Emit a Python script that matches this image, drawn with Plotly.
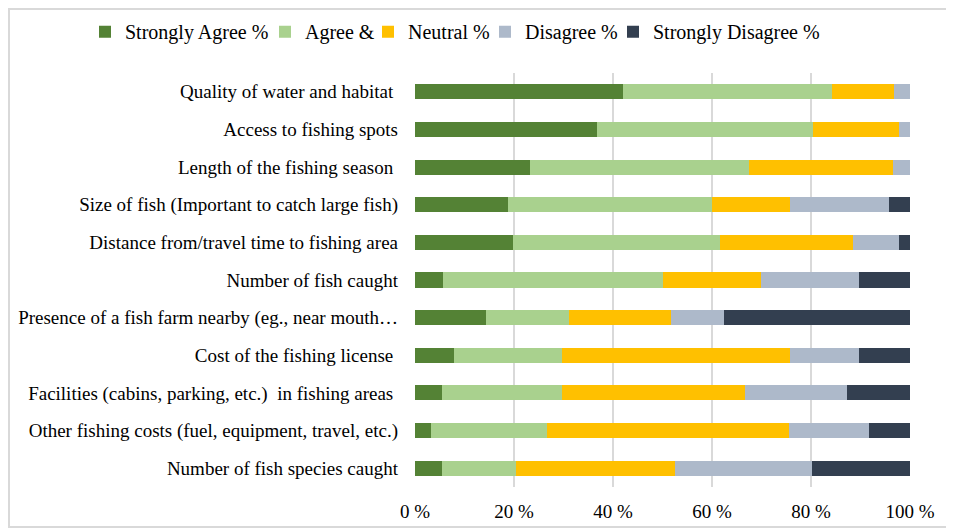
import plotly.graph_objects as go

categories = [
    "Quality of water and habitat ",
    "Access to fishing spots",
    "Length of the fishing season ",
    "Size of fish (Important to catch large fish)",
    "Distance from/travel time to fishing area",
    "Number of fish caught",
    "Presence of a fish farm nearby (eg., near mouth…",
    "Cost of the fishing license ",
    "Facilities (cabins, parking, etc.)  in fishing areas ",
    "Other fishing costs (fuel, equipment, travel, etc.)",
    "Number of fish species caught",
]

strongly_agree = [42.0, 36.8, 23.2, 18.8, 19.7, 5.7, 14.3, 7.8, 5.5, 3.3, 5.5]
agree = [42.2, 43.7, 44.3, 41.2, 41.9, 44.4, 16.9, 21.8, 24.1, 23.3, 14.9]
neutral = [12.5, 17.3, 29.1, 15.7, 26.9, 19.8, 20.5, 46.1, 37.0, 48.9, 32.2]
disagree = [3.3, 2.2, 3.4, 20.0, 9.3, 19.7, 10.7, 13.9, 20.6, 16.2, 27.7]
strongly_disagree = [0.0, 0.0, 0.0, 4.3, 2.2, 10.4, 37.6, 10.4, 12.8, 8.3, 19.7]

series = [
    ("Strongly Agree %", strongly_agree, "#548235"),
    ("Agree &", agree, "#A9D18E"),
    ("Neutral %", neutral, "#FFC000"),
    ("Disagree %", disagree, "#ADB9CA"),
    ("Strongly Disagree %", strongly_disagree, "#333F50"),
]

W, H = 946, 522
L, R, T, B = 407, 44, 65, 43
pw, ph = W - L - R, H - T - B

# one legend box per series so the row stays on one line like the original
legend_left_px = [77, 257, 360, 477, 605]

fig = go.Figure()
legends = {}
for i, (name, vals, color) in enumerate(series):
    key = "legend" if i == 0 else f"legend{i + 1}"
    fig.add_trace(go.Bar(y=categories, x=vals, name=name, orientation="h",
                         legend=key, showlegend=True,
                         marker=dict(color=color, line=dict(width=0))))
    legends[key] = dict(orientation="h", xref="container", yref="container",
                        x=legend_left_px[i] / W, xanchor="left",
                        y=0.992, yanchor="top", bgcolor="rgba(0,0,0,0)",
                        font=dict(size=20), itemwidth=30)

fig.update_layout(
    barmode="stack",
    bargap=0.6,
    showlegend=True,
    width=W, height=H,
    margin=dict(l=L, r=R, t=T, b=B, autoexpand=False),
    paper_bgcolor="white", plot_bgcolor="white",
    font=dict(family="Liberation Serif, Times New Roman, serif", size=19, color="#000000"),
    xaxis=dict(range=[0, 100], tickvals=[0, 20, 40, 60, 80, 100],
               ticktext=["0 %", "20 %", "40 %", "60 %", "80 %", "100 %"],
               showgrid=True, gridcolor="#D9D9D9", gridwidth=2, zeroline=False,
               ticks="", ticklabelstandoff=11, fixedrange=True),
    yaxis=dict(autorange="reversed", ticks="", showgrid=False, ticklabelstandoff=16),
    shapes=[dict(type="rect", xref="paper", yref="paper",
                 x0=-(L - 1) / pw, x1=1 + (R - 4) / pw,
                 y0=-(B - 3) / ph, y1=1 + (T - 1) / ph,
                 line=dict(color="#D9D9D9", width=2))],
    **legends,
)

fig.write_html("out.html")
